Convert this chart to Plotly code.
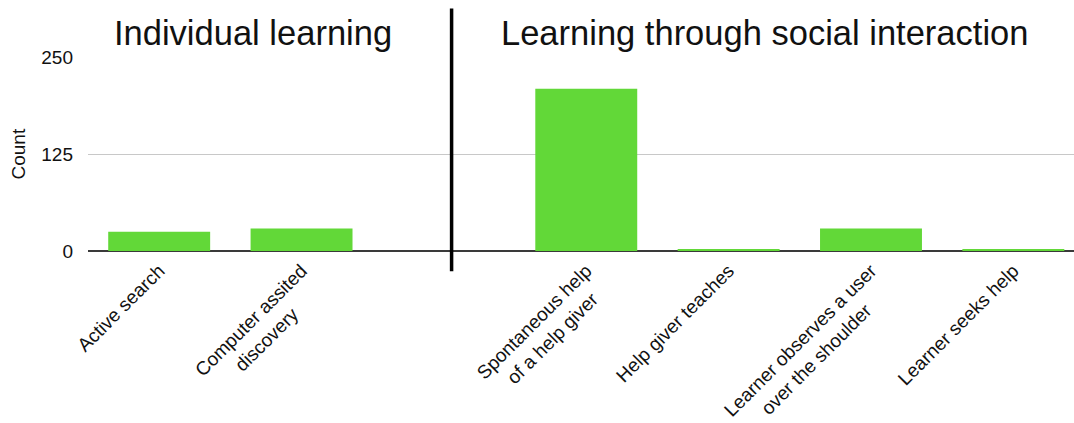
import plotly.graph_objects as go

# ---- data ----
group_titles = ["Individual learning", "Learning through social interaction"]
group1_labels = ["Active search", "Computer assited discovery"]
group1_values = [25, 29]
group2_labels = ["Spontaneous help of a help giver", "Help giver teaches",
                 "Learner observes a user over the shoulder", "Learner seeks help"]
group2_values = [210, 2, 29, 2]
tick_text_1 = ["Active search",
               "Computer assited<br>discovery"]
tick_text_2 = ["Spontaneous help<br>of a help giver",
               "Help giver teaches",
               "Learner observes a user<br>over the shoulder",
               "Learner seeks help"]
y_ticks = [0, 125, 250]

# pad the short second line so multi-line labels look centred
pad = {"Computer assited<br>discovery": 7,
       "Spontaneous help<br>of a help giver": 3,
       "Learner observes a user<br>over the shoulder": 6}
def padded(t):
    n = pad.get(t, 0)
    return t + "\u00a0" * n if n else t

# slot layout: group 1, one empty slot, group 2
x1 = list(range(len(group1_values)))
x2 = [len(group1_values) + 1 + i for i in range(len(group2_values))]
xs = x1 + x2
vals = group1_values + group2_values
labels = group1_labels + group2_labels
ticktext = [padded(t) for t in tick_text_1 + tick_text_2]

FONT = "Liberation Sans, Arial, Helvetica, sans-serif"
GREEN = "#62d838"
FS = 19

fig = go.Figure()
fig.add_trace(go.Bar(x=xs, y=vals, marker=dict(color=GREEN, line=dict(width=0)),
                     hovertext=labels, width=0.716))

fig.update_layout(
    width=1074, height=423,
    margin=dict(l=88, r=0, t=57, b=172, pad=0),
    paper_bgcolor="white", plot_bgcolor="white",
    showlegend=False,
    font=dict(family=FONT, size=FS, color="#111"),
    xaxis=dict(range=[-0.5, 6.426], tickmode="array", tickvals=xs, ticktext=ticktext,
               tickangle=-45, showgrid=False, zeroline=False, showline=False,
               ticks="", automargin=False, ticklabelstandoff=4,
               tickfont=dict(size=FS, family=FONT, color="#111")),
    yaxis=dict(range=[0, 251], tickmode="array", tickvals=y_ticks,
               ticktext=[str(v) for v in y_ticks],
               showgrid=True, gridcolor="#c8c8c8", gridwidth=1,
               zeroline=True, zerolinecolor="#3a3a3a", zerolinewidth=1.5,
               showline=False, ticks="", ticklabelstandoff=14, automargin=False,
               tickfont=dict(size=FS, family=FONT, color="#111")),
)

# axis title
fig.add_annotation(text="Count", xref="paper", yref="paper", x=-0.0705, y=0.5,
                   textangle=-90, showarrow=False, xanchor="center", yanchor="middle",
                   font=dict(size=FS, family=FONT, color="#111"))

# group titles
title_x = [0.66, 4.25]
for t, xc in zip(group_titles, title_x):
    fig.add_annotation(text=t, xref="x", yref="paper", x=xc, y=1.126,
                       showarrow=False, xanchor="center", yanchor="middle",
                       font=dict(size=34.5, family=FONT, color="#111"))

# group divider
fig.add_shape(type="line", xref="x", yref="paper", x0=2.054, x1=2.054,
              y0=-0.104, y1=1.25, line=dict(color="black", width=3.5))

fig.write_html("out.html", config={"displayModeBar": False},
               post_script="document.body.style.margin='0';")
